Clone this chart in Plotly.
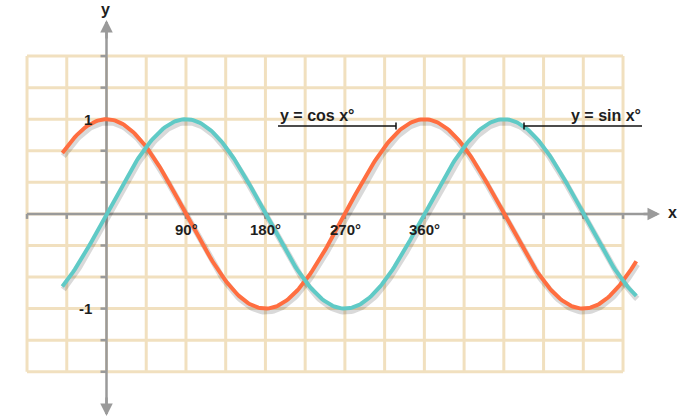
import numpy as np
import plotly.graph_objects as go

# ---- data ----
x_deg = list(range(-50, 601, 2))
cos_vals = [float(np.cos(np.radians(d))) for d in x_deg]
sin_vals = [float(np.sin(np.radians(d))) for d in x_deg]
grid_x = [-90 + 45 * k for k in range(16)]          # -90 .. 585
grid_y = [k / 3 for k in range(-5, 6)]              # -5/3 .. 5/3
x_tick_vals = [90, 180, 270, 360]
x_tick_text = ["90°", "180°", "270°", "360°"]
y_tick_vals = [1, -1]
y_tick_text = ["1", "-1"]

# ---- layout constants ----
W, H = 687, 418
PX_PER_DEG = 596 / 675
PX_PER_UNIT = 94.7
X0_PX, Y0_PX = 106.5, 213.9
x_range = [-X0_PX / PX_PER_DEG, (W - X0_PX) / PX_PER_DEG]
y_range = [-(H - Y0_PX) / PX_PER_UNIT, Y0_PX / PX_PER_UNIT]

def dx(px):
    return px / PX_PER_DEG

def dy(px):
    return px / PX_PER_UNIT

GRID_C = "#F1E0BF"
AXIS_C = "#9A9A9A"
ORANGE = "#FF6E40"
TEAL = "#5FCAC6"
TXT = "#1E1E1E"
FONT = "Liberation Sans"

fig = go.Figure()

# grid
gx, gy = [], []
for v in grid_x:
    gx += [v, v, None]
    gy += [grid_y[0], grid_y[-1], None]
for h in grid_y:
    gx += [grid_x[0], grid_x[-1], None]
    gy += [h, h, None]
fig.add_trace(go.Scatter(x=gx, y=gy, mode="lines",
                         line=dict(color=GRID_C, width=3), hoverinfo="skip"))

# axes lines
fig.add_trace(go.Scatter(x=[grid_x[0], x_range[1] - dx(30)], y=[0, 0], mode="lines",
                         line=dict(color=AXIS_C, width=2.5), hoverinfo="skip"))
fig.add_trace(go.Scatter(x=[0, 0], y=[y_range[0] + dy(4), y_range[1] - dy(22)], mode="lines",
                         line=dict(color=AXIS_C, width=2.5), hoverinfo="skip"))

# axis ticks
tx, ty = [], []
for v in grid_x:
    if v != 0:
        tx += [v, v, None]
        ty += [0, -dy(5), None]
for h in grid_y:
    if abs(h) > 1e-9:
        tx += [0, -dx(6), None]
        ty += [h, h, None]
fig.add_trace(go.Scatter(x=tx, y=ty, mode="lines",
                         line=dict(color=AXIS_C, width=2.5), hoverinfo="skip"))

# shadows
for vals in (sin_vals, cos_vals):
    fig.add_trace(go.Scatter(x=[d + dx(1) for d in x_deg], y=[v - dy(3) for v in vals],
                             mode="lines", line=dict(color="rgba(0,0,0,0.15)", width=6),
                             hoverinfo="skip"))
# curves
fig.add_trace(go.Scatter(x=x_deg, y=cos_vals, mode="lines",
                         line=dict(color=ORANGE, width=4), hoverinfo="skip"))
fig.add_trace(go.Scatter(x=x_deg, y=sin_vals, mode="lines",
                         line=dict(color=TEAL, width=4), hoverinfo="skip"))

# leader lines
lab_y = dy(Y0_PX - 126)
lx = [dx(278 - X0_PX), dx(396 - X0_PX), None, dx(396 - X0_PX), dx(396 - X0_PX), None,
      dx(524 - X0_PX), dx(642 - X0_PX), None, dx(524 - X0_PX), dx(524 - X0_PX), None]
ly = [lab_y, lab_y, None, lab_y - dy(3.5), lab_y + dy(3.5), None,
      lab_y, lab_y, None, lab_y - dy(3.5), lab_y + dy(3.5), None]
fig.add_trace(go.Scatter(x=lx, y=ly, mode="lines",
                         line=dict(color="#111111", width=1.5), hoverinfo="skip"))

annotations = []
# arrowheads
annotations.append(dict(x=x_range[1] - dx(27), y=0, ax=x_range[1] - dx(45), ay=0,
                        xref="x", yref="y", axref="x", ayref="y", text="",
                        showarrow=True, arrowhead=2, arrowsize=1, arrowwidth=2.5,
                        arrowcolor=AXIS_C))
annotations.append(dict(x=0, y=y_range[1] - dy(20), ax=0, ay=y_range[1] - dy(40),
                        xref="x", yref="y", axref="x", ayref="y", text="",
                        showarrow=True, arrowhead=2, arrowsize=1, arrowwidth=2.5,
                        arrowcolor=AXIS_C))
annotations.append(dict(x=0, y=y_range[0] + dy(2), ax=0, ay=y_range[0] + dy(22),
                        xref="x", yref="y", axref="x", ayref="y", text="",
                        showarrow=True, arrowhead=2, arrowsize=1, arrowwidth=2.5,
                        arrowcolor=AXIS_C))
# axis names
annotations.append(dict(x=dx(105 - X0_PX), y=dy(Y0_PX - 9), text="<b>y</b>", showarrow=False,
                        font=dict(family=FONT, size=16, color=TXT)))
annotations.append(dict(x=dx(672 - X0_PX), y=dy(1), text="<b>x</b>", showarrow=False,
                        font=dict(family=FONT, size=16, color=TXT)))
# tick labels
for v, t in zip(x_tick_vals, x_tick_text):
    annotations.append(dict(x=v + dx(0.5), y=-dy(15.5), text=f"<b>{t}</b>", showarrow=False,
                            font=dict(family=FONT, size=15, color=TXT)))
for v, t in zip(y_tick_vals, y_tick_text):
    annotations.append(dict(x=-dx(13), y=v, text=f"<b>{t}</b>", showarrow=False,
                            xanchor="right", font=dict(family=FONT, size=15, color=TXT)))
# curve labels
annotations.append(dict(x=dx(317 - X0_PX), y=dy(Y0_PX - 115), text="<b>y = cos x°</b>",
                        showarrow=False, font=dict(family=FONT, size=16, color=TXT)))
annotations.append(dict(x=dx(606 - X0_PX), y=dy(Y0_PX - 115), text="<b>y = sin x°</b>",
                        showarrow=False, font=dict(family=FONT, size=16, color=TXT)))

fig.update_layout(
    width=W, height=H,
    margin=dict(l=0, r=0, t=0, b=0),
    paper_bgcolor="white", plot_bgcolor="white",
    showlegend=False,
    xaxis=dict(range=x_range, visible=False, fixedrange=True),
    yaxis=dict(range=y_range, visible=False, fixedrange=True),
    annotations=annotations,
)

fig.write_html("out.html", config={"displayModeBar": False},
               post_script="document.body.style.margin='0px';document.body.style.overflow='hidden';")
